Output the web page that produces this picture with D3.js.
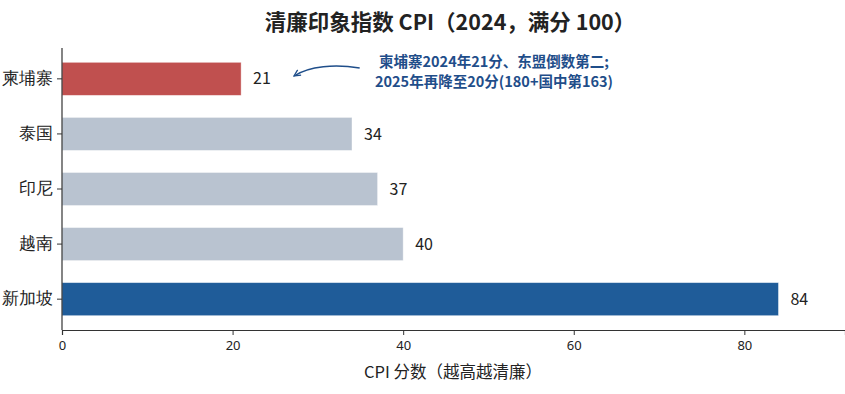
<!DOCTYPE html>
<html>
<head>
<meta charset="utf-8">
<script src="https://cdn.jsdelivr.net/npm/d3@7"></script>
<style>
  body { margin: 0; background: #fff; }
  svg { font-family: "Noto Sans CJK SC", "Noto Sans", sans-serif; }
</style>
</head>
<body>
<svg id="chart"></svg>
<script>
// data
var countries = ["柬埔寨", "泰国", "印尼", "越南", "新加坡"]
var scores = [21, 34, 37, 40, 84]
var barColors = ["#c0504f", "#b9c3d0", "#b9c3d0", "#b9c3d0", "#1f5c99"]
var xTicks = [0, 20, 40, 60, 80]
var noteLines = ["柬埔寨2024年21分、东盟倒数第二;", "2025年再降至20分(180+国中第163)"]

var width = 845
var height = 394
var margin = {top: 48, right: 0, bottom: 64, left: 62}

const svg = d3.select("#chart")
    .attr("width", width)
    .attr("height", height)

const x = d3.scaleLinear()
    .domain([0, 91.8])
    .range([margin.left, width - margin.right])

const y = d3.scaleBand()
    .domain(countries)
    .range([margin.top, height - margin.bottom])
    .paddingInner(0.4)
    .paddingOuter(0.26)

// title
svg.append("text")
    .attr("x", 450)
    .attr("y", 30)
    .attr("text-anchor", "middle")
    .attr("font-size", 21.5)
    .attr("font-weight", "bold")
    .attr("fill", "#222")
    .text("清廉印象指数 CPI（2024，满分 100）")

// bars
var rows = countries.map((c, i) => ({name: c, value: scores[i], color: barColors[i]}))

svg.append("g")
    .selectAll("rect")
    .data(rows)
    .enter()
    .append("rect")
    .attr("x", x(0))
    .attr("y", d => y(d.name))
    .attr("width", d => x(d.value) - x(0))
    .attr("height", y.bandwidth())
    .attr("fill", d => d.color)
    .attr("stroke", "#ffffff")
    .attr("stroke-opacity", 0.5)
    .attr("stroke-width", 0.8)

// value labels
svg.append("g")
    .selectAll("text")
    .data(rows)
    .enter()
    .append("text")
    .attr("x", d => x(d.value) + 12)
    .attr("y", d => y(d.name) + y.bandwidth() / 2)
    .attr("dy", "0.35em")
    .attr("font-size", 16)
    .attr("fill", "#222")
    .text(d => d.value)

// axes
const xAxis = svg.append("g")
    .attr("transform", `translate(0,${height - margin.bottom})`)
    .call(d3.axisBottom(x).tickValues(xTicks).tickSize(5).tickPadding(6))
xAxis.select(".domain").attr("stroke", "#333").attr("stroke-width", 1.2)
xAxis.selectAll(".tick line").attr("stroke", "#333")
xAxis.selectAll(".tick text")
    .attr("font-size", 13)
    .attr("fill", "#222")
    .attr("font-family", "'Noto Sans', sans-serif")

const yAxis = svg.append("g")
    .attr("transform", `translate(${margin.left},0)`)
    .call(d3.axisLeft(y).tickSize(5).tickPadding(4))
yAxis.select(".domain").attr("stroke", "#333").attr("stroke-width", 1.2)
    .attr("d", `M0,${margin.top}V${height - margin.bottom}`)
yAxis.selectAll(".tick line").attr("stroke", "#333")
yAxis.selectAll(".tick text")
    .attr("font-size", 16.5)
    .attr("fill", "#222")

// x axis label
svg.append("text")
    .attr("x", 453)
    .attr("y", 378)
    .attr("text-anchor", "middle")
    .attr("font-size", 16.5)
    .attr("fill", "#222")
    .text("CPI 分数（越高越清廉）")

// annotation
const note = svg.append("g")
note.selectAll("text")
    .data(noteLines)
    .enter()
    .append("text")
    .attr("x", 494)
    .attr("y", (d, i) => 67 + i * 20)
    .attr("text-anchor", "middle")
    .attr("font-size", 14.5)
    .attr("font-weight", "bold")
    .attr("fill", "#1f4e8a")
    .text(d => d)

svg.append("defs").append("marker")
    .attr("id", "arrow")
    .attr("viewBox", "0 0 10 10")
    .attr("refX", 9)
    .attr("refY", 5)
    .attr("markerWidth", 8)
    .attr("markerHeight", 8)
    .attr("markerUnits", "userSpaceOnUse")
    .attr("orient", "auto")
    .append("path")
    .attr("d", "M1,1 L9,5 L1,9")
    .attr("fill", "none")
    .attr("stroke", "#1f4e8a")
    .attr("stroke-width", 1.6)

svg.append("path")
    .attr("d", `M${x(34.9)},68 C${x(32)},64 ${x(29)},66 ${x(27.2)},76`)
    .attr("fill", "none")
    .attr("stroke", "#1f4e8a")
    .attr("stroke-width", 1.4)
    .attr("marker-end", "url(#arrow)")
</script>
</body>
</html>
